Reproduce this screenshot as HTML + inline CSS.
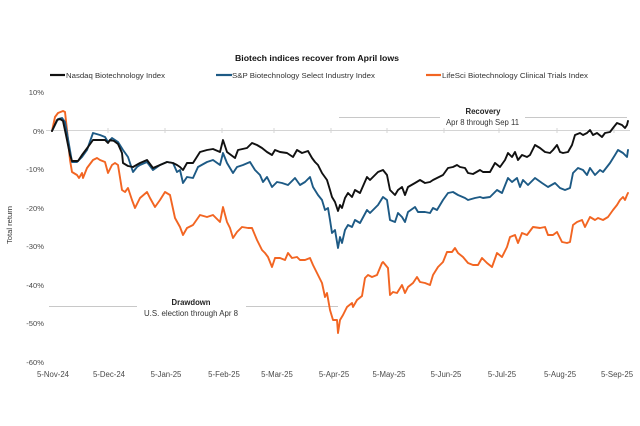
<!DOCTYPE html>
<html><head><meta charset="utf-8"><style>
html,body{margin:0;padding:0;background:#fff;}
svg{display:block;font-family:"Liberation Sans",sans-serif;}
</style></head><body>
<svg width="640" height="426" viewBox="0 0 640 426" xmlns="http://www.w3.org/2000/svg">
<rect width="640" height="426" fill="#fff"/>
<!-- title -->
<text x="317" y="61" text-anchor="middle" font-size="8.6" font-weight="bold" fill="#111" textLength="164" lengthAdjust="spacingAndGlyphs">Biotech indices recover from April lows</text>
<!-- legend -->
<line x1="50" y1="75" x2="65" y2="75" stroke="#111" stroke-width="2.2"/>
<text x="66" y="78" font-size="7.6" fill="#333" textLength="99" lengthAdjust="spacingAndGlyphs">Nasdaq Biotechnology Index</text>
<line x1="216" y1="75" x2="232" y2="75" stroke="#1d5a85" stroke-width="2.2"/>
<text x="232" y="78" font-size="7.6" fill="#333" textLength="143" lengthAdjust="spacingAndGlyphs">S&amp;P Biotechnology Select Industry Index</text>
<line x1="426" y1="75" x2="441" y2="75" stroke="#f26522" stroke-width="2.2"/>
<text x="442" y="78" font-size="7.6" fill="#333" textLength="146" lengthAdjust="spacingAndGlyphs">LifeSci Biotechnology Clinical Trials Index</text>
<!-- y labels -->
<g font-size="7.6" fill="#4a4a4a" text-anchor="end">
<text x="44" y="95">10%</text>
<text x="44" y="134">0%</text>
<text x="44" y="172">-10%</text>
<text x="44" y="211">-20%</text>
<text x="44" y="249">-30%</text>
<text x="44" y="288">-40%</text>
<text x="44" y="326">-50%</text>
<text x="44" y="365">-60%</text>
</g>
<text transform="translate(12,225) rotate(-90)" text-anchor="middle" font-size="7.6" fill="#333">Total return</text>
<!-- zero axis -->
<line x1="46" y1="130.5" x2="630" y2="130.5" stroke="#d4d4d4" stroke-width="1"/>
<g stroke="#d4d4d4" stroke-width="1">
<line x1="108" y1="128" x2="108" y2="133"/>
<line x1="165" y1="128" x2="165" y2="133"/>
<line x1="222" y1="128" x2="222" y2="133"/>
<line x1="274" y1="128" x2="274" y2="133"/>
<line x1="331" y1="128" x2="331" y2="133"/>
<line x1="387" y1="128" x2="387" y2="133"/>
<line x1="444" y1="128" x2="444" y2="133"/>
<line x1="499" y1="128" x2="499" y2="133"/>
<line x1="557" y1="128" x2="557" y2="133"/>
<line x1="614" y1="128" x2="614" y2="133"/>
</g>
<!-- x labels -->
<g font-size="7.8" fill="#4a4a4a" text-anchor="middle">
<text x="53" y="377">5-Nov-24</text>
<text x="109" y="377">5-Dec-24</text>
<text x="166" y="377">5-Jan-25</text>
<text x="224" y="377">5-Feb-25</text>
<text x="277" y="377">5-Mar-25</text>
<text x="334" y="377">5-Apr-25</text>
<text x="389" y="377">5-May-25</text>
<text x="446" y="377">5-Jun-25</text>
<text x="502" y="377">5-Jul-25</text>
<text x="560" y="377">5-Aug-25</text>
<text x="617" y="377">5-Sep-25</text>
</g>
<!-- annotations -->
<g stroke="#c8c8c8" stroke-width="1">
<line x1="339" y1="117.5" x2="440" y2="117.5"/>
<line x1="525" y1="117.5" x2="627" y2="117.5"/>
<line x1="49" y1="306.5" x2="137" y2="306.5"/>
<line x1="246" y1="306.5" x2="338" y2="306.5"/>
</g>
<text x="483" y="114" text-anchor="middle" font-size="7.8" font-weight="bold" fill="#222" textLength="35" lengthAdjust="spacingAndGlyphs">Recovery</text>
<text x="482.5" y="125" text-anchor="middle" font-size="7.8" fill="#333" textLength="73" lengthAdjust="spacingAndGlyphs">Apr 8 through Sep 11</text>
<text x="191" y="305" text-anchor="middle" font-size="7.8" font-weight="bold" fill="#222" textLength="39" lengthAdjust="spacingAndGlyphs">Drawdown</text>
<text x="191" y="316" text-anchor="middle" font-size="7.8" fill="#333" textLength="94" lengthAdjust="spacingAndGlyphs">U.S. election through Apr 8</text>
<!-- series -->
<g fill="none" stroke-width="1.9" stroke-linejoin="round" stroke-linecap="round">
<polyline stroke="#f26522" points="52,131 55,117 58,113 63,111 65,112 67,130 70,160 72,172 77,175 79,178 82,173 83,178 87,168 93,160 97,158 100,160 105,162 108,173 112,165 115,163 118,165 122,190 125,192 128,188 132,200 135,208 140,198 147,192 150,198 155,207 160,200 165,192 170,195 175,218 180,227 183,235 187,228 193,225 200,215 207,217 213,215 220,222 223,207 227,222 230,228 233,238 237,232 242,227 248,228 252,228 257,240 262,250 265,253 268,257 272,267 275,258 280,258 285,260 288,253 292,258 297,257 300,260 305,260 310,258 313,265 318,275 322,283 325,297 327,293 330,310 333,320 337,320 338,333 340,320 343,315 347,307 352,303 353,307 357,300 362,296 365,278 368,275 372,277 377,275 382,263 383,262 388,268 390,295 393,292 397,293 402,285 405,293 408,287 413,283 417,277 420,282 425,283 430,285 433,275 438,267 443,262 447,252 452,252 455,248 458,253 463,257 468,263 473,265 478,265 482,258 487,263 492,267 497,253 502,257 507,247 510,237 515,235 518,243 522,233 527,235 533,227 540,228 545,227 548,235 553,235 557,232 562,242 567,243 570,242 573,225 577,222 582,220 585,227 590,217 595,220 598,218 603,220 608,217 613,210 617,205 620,200 623,197 625,200 627,195 628,193"/>
<polyline stroke="#1d5a85" points="52,131 58,119 62,118 65,122 67,133 72,162 77,162 82,157 87,150 93,133 100,135 105,137 108,142 112,138 118,142 123,150 128,157 133,172 137,167 140,165 147,162 153,170 160,165 167,162 173,163 177,172 180,170 183,183 187,177 193,178 198,167 207,162 213,160 220,165 223,153 227,163 233,173 237,167 243,165 250,162 255,170 260,175 263,182 267,177 272,187 277,182 282,183 288,185 295,178 300,185 305,182 310,177 313,187 318,195 322,200 325,210 328,208 330,220 332,233 335,230 338,248 340,237 342,243 345,230 348,225 352,227 355,220 360,223 367,210 370,213 378,205 383,197 387,200 390,220 395,222 398,213 402,217 405,222 408,212 415,207 418,212 425,212 430,213 433,208 437,210 443,200 448,193 453,192 458,195 465,198 468,200 475,198 480,197 483,198 490,197 497,190 502,193 508,178 512,182 517,178 520,187 523,180 528,185 535,178 542,183 548,187 555,183 560,188 565,190 570,188 573,173 578,168 583,170 587,175 590,168 595,175 600,170 603,172 610,163 615,155 618,150 623,153 627,157 628,150"/>
<polyline stroke="#111" points="52,131 57,120 60,119 63,121 66,135 70,155 72,161 78,161 82,155 88,147 93,140 97,140 105,140 108,143 110,140 114,141 118,144 122,153 123,163 128,166 133,167 140,163 147,160 153,168 160,165 167,162 173,163 177,165 180,167 183,170 187,163 193,163 200,152 207,150 213,149 220,152 223,140 227,152 235,158 238,150 247,148 252,143 257,145 262,148 267,152 272,155 275,150 280,152 287,153 293,157 297,150 302,153 308,151 312,158 315,162 318,165 322,173 327,180 330,190 332,197 335,202 338,211 340,205 342,208 345,198 348,193 352,197 355,190 360,193 367,177 370,180 378,172 383,170 387,175 390,190 395,195 398,190 402,187 405,195 408,187 415,183 420,180 425,183 430,182 433,180 437,178 443,175 448,168 453,167 457,165 460,167 465,168 468,173 473,174 480,170 483,172 490,172 495,163 500,167 505,160 508,153 512,157 515,152 518,160 522,155 527,157 530,155 535,145 540,148 545,152 550,153 553,150 557,145 560,152 563,153 568,152 572,145 575,135 580,133 583,135 587,133 590,130 593,135 597,133 602,137 605,133 610,132 613,128 617,123 622,125 625,128 627,125 628,121"/>
</g>
</svg>
</body></html>
